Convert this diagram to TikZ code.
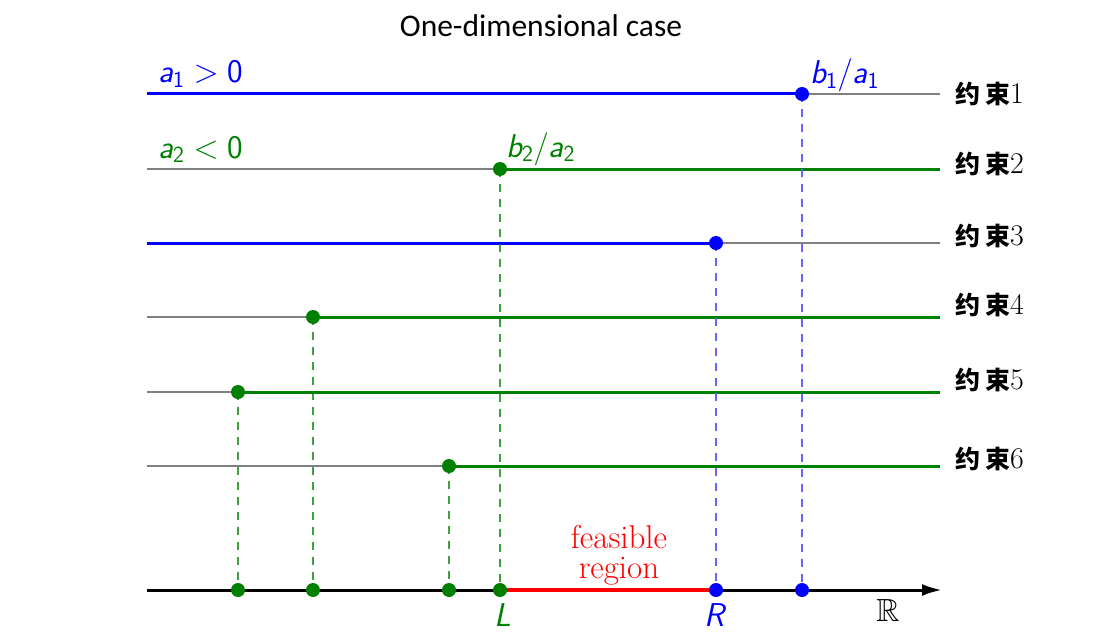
\documentclass[tikz,border=0pt]{standalone}
\usepackage{fix-cm}
\usepackage{amssymb}
\usepackage{fontspec}
\newfontfamily\cjk{Noto Sans CJK SC}
\newfontfamily\titlefont{Carlito}
\usetikzlibrary{arrows.meta}
\newcommand\sv[1]{\textsf{\itshape #1}}
\definecolor{dgreen}{RGB}{0,128,0}
\tikzset{
  thinline/.style={draw=gray, line width=1.2pt},
  blueline/.style={draw=blue, line width=3pt},
  greenline/.style={draw=dgreen, line width=3pt},
  bdot/.style={circle, fill=blue, inner sep=0pt, minimum size=14pt},
  gdot/.style={circle, fill=dgreen, inner sep=0pt, minimum size=14pt},
  bdash/.style={draw=blue!60, line width=1.2pt, dash pattern=on 8pt off 7pt},
  gdash/.style={draw=dgreen, opacity=0.75, line width=1.2pt, dash pattern=on 8pt off 7pt},
  clabel/.style={anchor=west, inner sep=0pt},
  mlabel/.style={inner sep=0pt, font=\fontsize{33}{36}\selectfont},
  flabel/.style={inner sep=0pt, anchor=base, red, font=\fontsize{33}{36}\selectfont},
}
\newcommand\cl[1]{{\cjk\bfseries 约\hspace{5pt}束}{\fontsize{30}{30}\selectfont #1}}
\begin{document}
\begin{tikzpicture}[x=1pt,y=-1pt]
\useasboundingbox (0,0) rectangle (1093,642);
% title
\node[inner sep=0pt, font=\titlefont\fontsize{31.5}{34}\selectfont] (title) at (541,26) {One-dimensional case};
% line endpoints
\foreach \i/\y in {1/94,2/169,3/243,4/317,5/392,6/466}{
  \coordinate (l\i) at (147,\y);
  \coordinate (r\i) at (940,\y);
  \draw[thinline] (l\i) -- (r\i);
}
% axis
\coordinate (al) at (147,590);
\coordinate (ar) at (942,590);
\draw[line width=3pt, -{Latex[length=20pt,width=12pt]}] (al) -- (ar);
% constraint points
\coordinate (p1) at (802,94);
\coordinate (p2) at (500,169);
\coordinate (p3) at (716,243);
\coordinate (p4) at (313,317);
\coordinate (p5) at (238,392);
\coordinate (p6) at (449,466);
\coordinate (q1) at (802,590);
\coordinate (q2) at (500,590);
\coordinate (q3) at (716,590);
\coordinate (q4) at (313,590);
\coordinate (q5) at (238,590);
\coordinate (q6) at (449,590);
% coloured half lines
\draw[blueline] (l1) -- (p1);
\draw[greenline] (p2) -- (r2);
\draw[blueline] (l3) -- (p3);
\draw[greenline] (p4) -- (r4);
\draw[greenline] (p5) -- (r5);
\draw[greenline] (p6) -- (r6);
% feasible region
\draw[red, line width=4pt] (q2) -- (q3);
% dashed projections
\draw[bdash] (p1) -- (q1);
\draw[bdash] (p3) -- (q3);
\draw[gdash] (p2) -- (q2);
\draw[gdash] (p4) -- (q4);
\draw[gdash] (p5) -- (q5);
\draw[gdash] (p6) -- (q6);
% dots
\foreach \i in {1,3}{
  \node[bdot] (d\i) at (p\i) {};
  \node[bdot] (e\i) at (q\i) {};
}
\foreach \i in {2,4,5,6}{
  \node[gdot] (d\i) at (p\i) {};
  \node[gdot] (e\i) at (q\i) {};
}
% labels
\node[mlabel, blue, anchor=base west] (la1) at (158,83) {$\sv{a}_{\mathsf{1}} > \mathsf{0}$};
\node[mlabel, dgreen, anchor=base west] (la2) at (158,158) {$\sv{a}_{\mathsf{2}} < \mathsf{0}$};
\node[mlabel, blue, anchor=base west] (lb1) at (810,84) {$\sv{b}_{\mathsf{1}}/\sv{a}_{\mathsf{1}}$};
\node[mlabel, dgreen, anchor=base west] (lb2) at (506,157) {$\sv{b}_{\mathsf{2}}/\sv{a}_{\mathsf{2}}$};
\node[mlabel, dgreen, anchor=base] (lL) at (503,626) {\sv{L}};
\node[mlabel, blue, anchor=base] (lR) at (716,626) {\sv{R}};
\node[inner sep=0pt, anchor=base, font=\fontsize{32}{34}\selectfont] (lRR) at (888,621) {$\mathbb{R}$};
\node[flabel] (feas1) at (619,548) {feasible};
\node[flabel] (feas2) at (619,578) {region};
% constraint names
\foreach \i/\y in {1/94,2/164,3/236,4/305,5/380,6/459}{
  \node[clabel, font=\fontsize{25}{28}\selectfont] (c\i) at (955,\y) {\cl{\i}};
}
\end{tikzpicture}
\end{document}
